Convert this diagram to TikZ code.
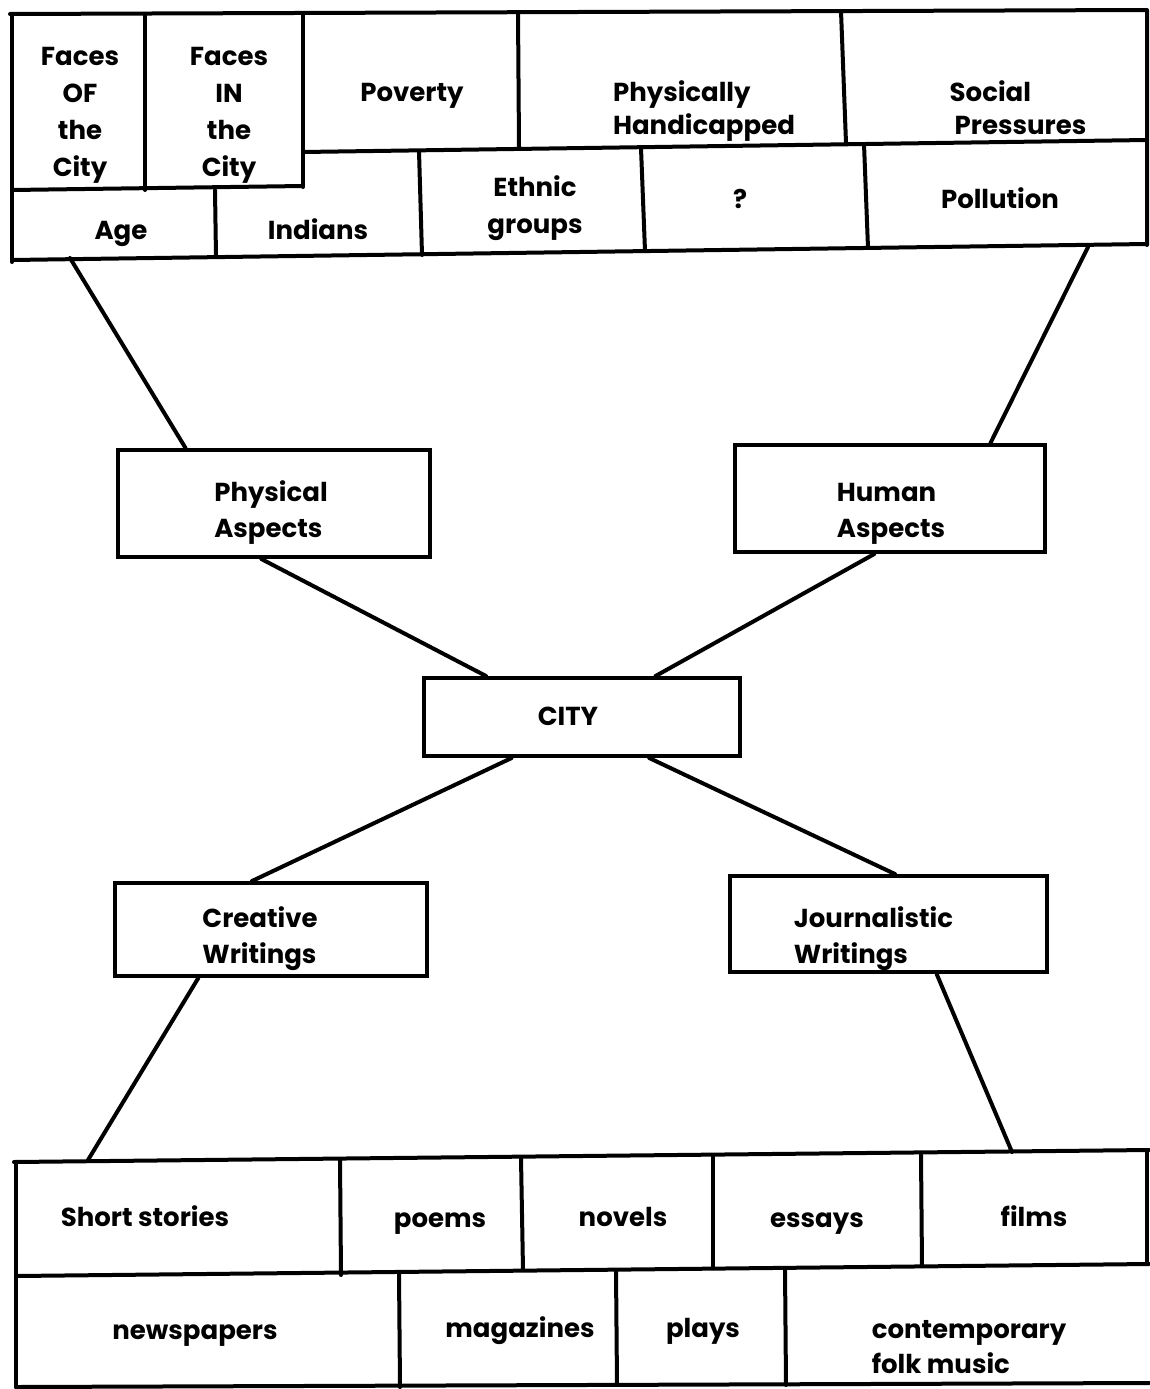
\documentclass[tikz,border=0pt]{standalone}
\usepackage{fontspec}
\setmainfont{Poppins}
\usetikzlibrary{calc}
\begin{document}
\begin{tikzpicture}[x=1pt,y=-1pt,
  gridline/.style={line width=4pt, line cap=round, line join=round},
  conn/.style={line width=4pt, line cap=round},
  txt/.style={font=\fontsize{26}{37}\selectfont\bfseries, inner sep=0pt, align=center},
  word/.style={font=\fontsize{26}{37}\selectfont\bfseries, inner sep=0pt, anchor=base},
  txtl/.style={font=\fontsize{26}{33}\selectfont\bfseries, inner sep=0pt, align=left},
  boxlabel/.style={font=\fontsize{26}{36}\selectfont\bfseries, inner sep=0pt, align=left},
  box/.style={draw, line width=4pt, inner sep=0pt}]
\useasboundingbox[fill=white] (0,0) rectangle (1149,1389);

% ---------- top grid ----------
\draw[gridline] (10,14) -- (1147,10) -- (1147,245);
\draw[gridline] (12,14) -- (12,262);
\draw[gridline] (12,260) -- (1147,244);
\draw[gridline] (145,14) -- (145,190);
\draw[gridline] (12,190) -- (303,186);
\draw[gridline] (303,13) -- (303,187);
\draw[gridline] (303,152) -- (1147,140);
\draw[gridline] (518,12) -- (519,147);
\draw[gridline] (841,11) -- (846,143);
\draw[gridline] (215,190) -- (216,257);
\draw[gridline] (419,151) -- (422,255);
\draw[gridline] (641,148) -- (645,251);
\draw[gridline] (864,144) -- (868,248);

\node[txt] (facesof) at (80,115) {Faces\\OF\\the\\City};
\node[txt] (facesin) at (229,115) {Faces\\IN\\the\\City};
\node[word] (poverty) at (412,101) {Poverty};
\node[txtl] (phys) at (704,111) {Physically\\Handicapped};
\node[txtl] (social) at (1018,108) {Social\\\hspace*{5pt}Pressures};
\node[word] (age) at (121,239) {Age};
\node[word] (indians) at (318,239) {Indians};
\node[txt] (ethnic) at (535,208) {Ethnic\\groups};
\node[word] (quest) at (740,208) {?};
\node[word] (pollution) at (1000,208) {Pollution};

\coordinate (topL) at (70,258);
\coordinate (topR) at (1088,247);

% ---------- middle boxes ----------
\node[box, minimum width=312pt, minimum height=107pt] (pa) at (274,503.5) {};
\node[boxlabel] (pa-text) at (271,513) {Physical\\Aspects};
\node[box, minimum width=310pt, minimum height=107pt] (ha) at (890,498.5) {};
\node[boxlabel] (ha-text) at (891,514) {Human\\Aspects};
\node[box, minimum width=316pt, minimum height=78pt] (city) at (582,717) {};
\node[word] (city-text) at (568,725) {CITY};
\node[box, minimum width=312pt, minimum height=93pt] (cw) at (271,929.5) {};
\node[boxlabel] (cw-text) at (260,939) {Creative\\Writings};
\node[box, minimum width=317pt, minimum height=96pt] (jw) at (888.5,924) {};
\node[boxlabel] (jw-text) at (873.5,939) {Journalistic\\Writings};

% ---------- bottom grid ----------
\draw[gridline] (14,1162) -- (1149,1150);
\draw[gridline] (16,1162) -- (16,1387);
\draw[gridline] (16,1276) -- (1149,1264);
\draw[gridline] (16,1387) -- (1149,1383);
\draw[gridline] (1147,1150) -- (1147,1264);
\draw[gridline] (340,1160) -- (341,1275);
\draw[gridline] (521,1158) -- (523,1270);
\draw[gridline] (713,1157) -- (713,1268);
\draw[gridline] (921,1155) -- (922,1266);
\draw[gridline] (399,1273) -- (400,1387);
\draw[gridline] (616,1270) -- (617,1385);
\draw[gridline] (785,1268) -- (786,1385);

\node[word] (short) at (145,1226) {Short stories};
\node[word] (poems) at (440,1227) {poems};
\node[word] (novels) at (623,1226) {novels};
\node[word] (essays) at (817,1227) {essays};
\node[word] (films) at (1034,1226) {films};
\node[word] (news) at (195,1339) {newspapers};
\node[word] (mags) at (520,1337) {magazines};
\node[word] (plays) at (703,1337) {plays};
\node[txt, align=left, font=\fontsize{26}{35}\selectfont\bfseries] (folk) at (969,1347) {contemporary\\folk music};

\coordinate (botL) at (88,1160);
\coordinate (botR) at (1012,1152);

% ---------- connectors ----------
\draw[conn] (topL) -- ($(pa.north west)!0.22!(pa.north east)$);
\draw[conn] (topR) -- ($(ha.north west)!0.82!(ha.north east)$);
\draw[conn] ($(pa.south west)!0.46!(pa.south east)$) -- ($(city.north west)!0.2!(city.north east)$);
\draw[conn] ($(ha.south west)!0.45!(ha.south east)$) -- ($(city.north west)!0.73!(city.north east)$);
\draw[conn] ($(city.south west)!0.28!(city.south east)$) -- ($(cw.north west)!0.44!(cw.north east)$);
\draw[conn] ($(city.south west)!0.71!(city.south east)$) -- ($(jw.north west)!0.52!(jw.north east)$);
\draw[conn] ($(cw.south west)!0.27!(cw.south east)$) -- (botL);
\draw[conn] ($(jw.south west)!0.65!(jw.south east)$) -- (botR);
\end{tikzpicture}
\end{document}
